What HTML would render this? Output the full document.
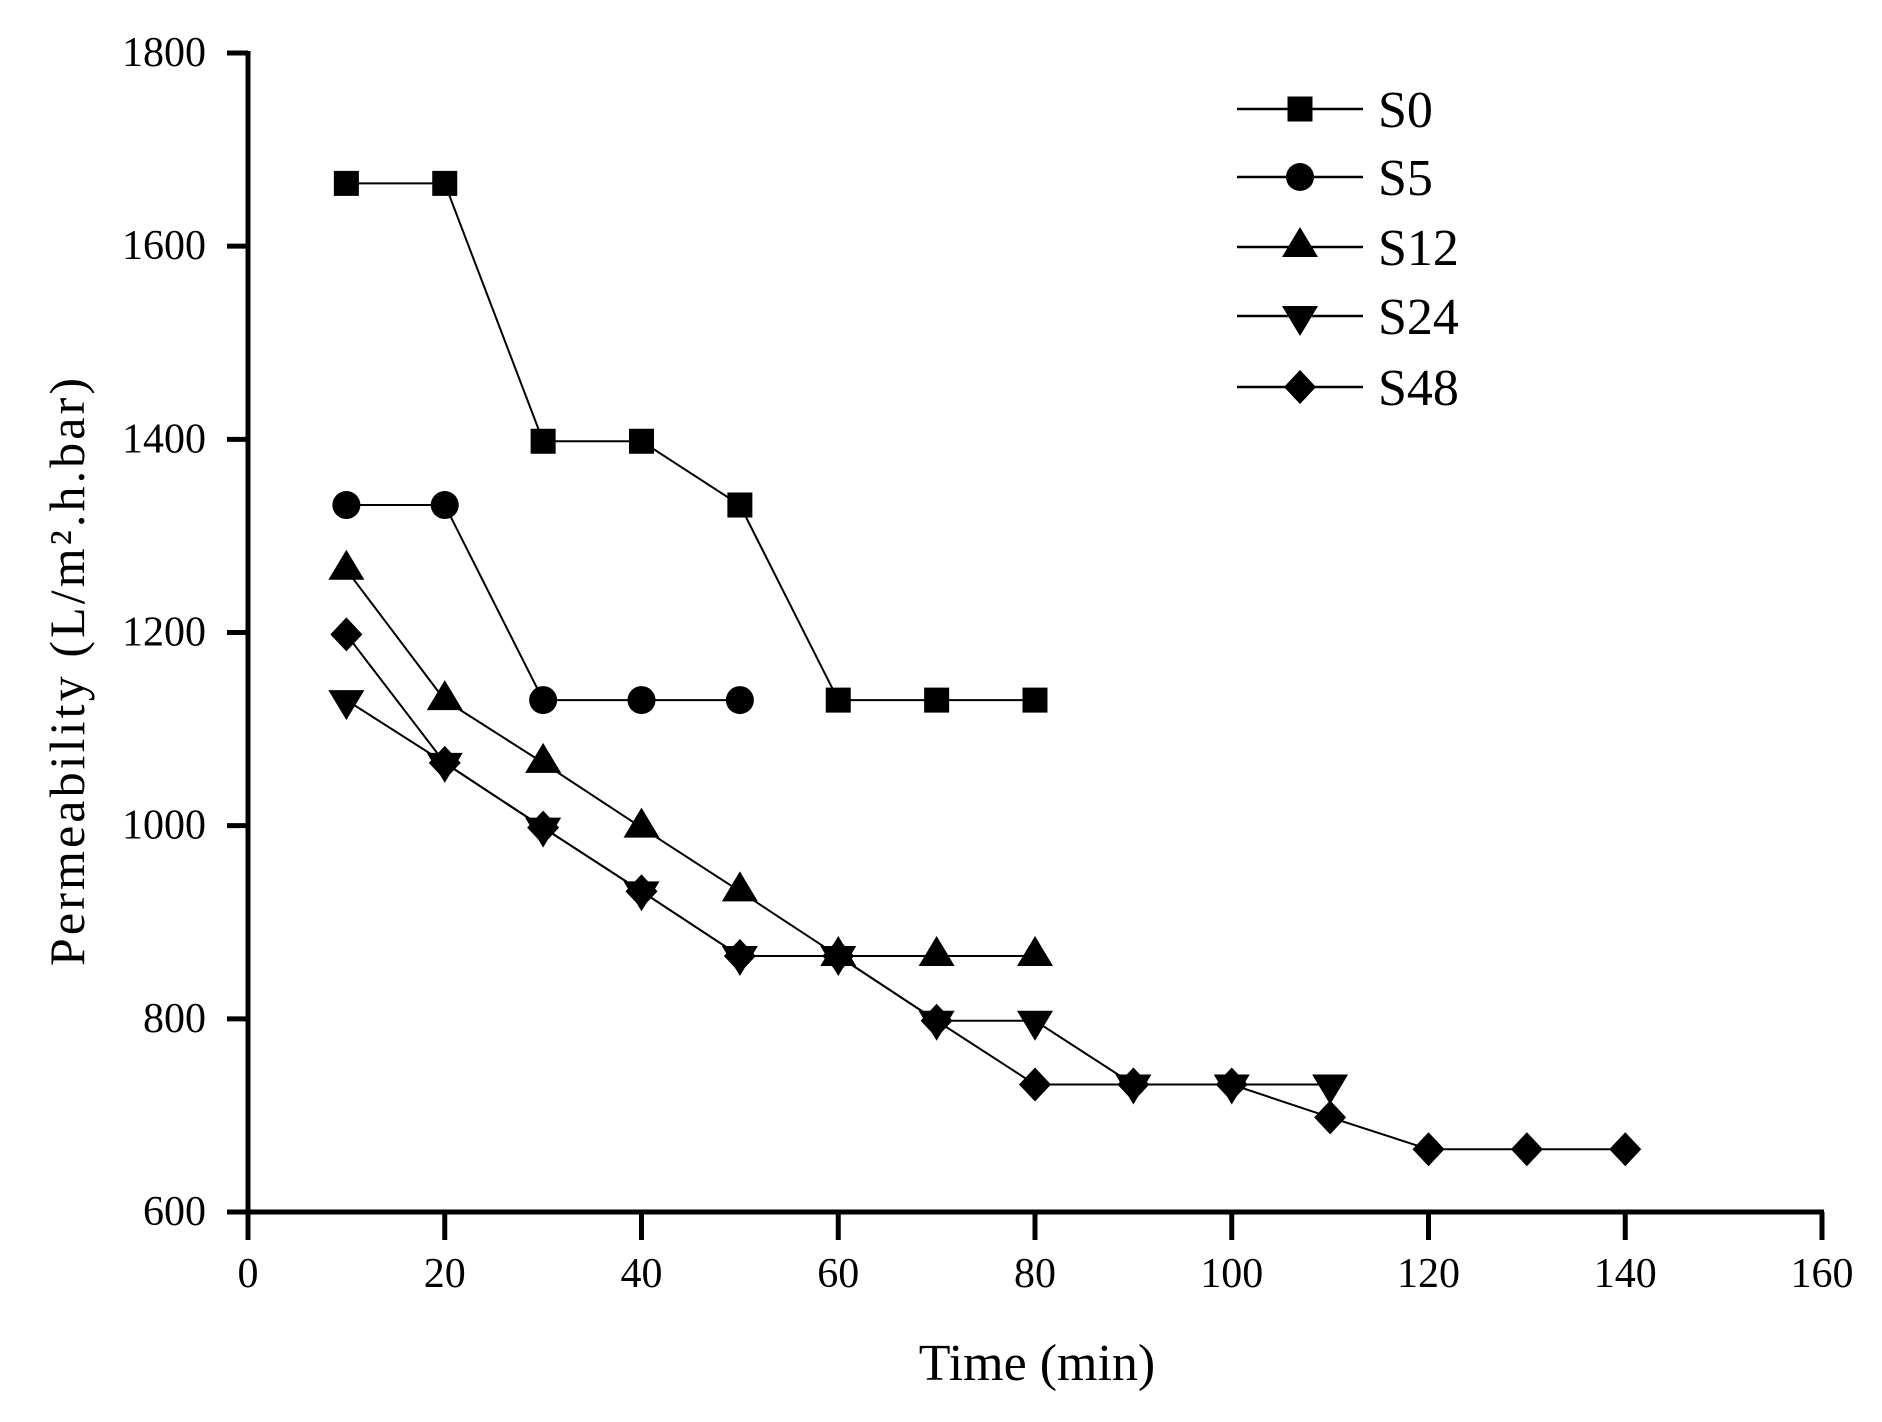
<!DOCTYPE html>
<html><head><meta charset="utf-8"><style>html,body{margin:0;padding:0;background:#fff}</style></head>
<body>
<svg id="s" width="1882" height="1417" xmlns="http://www.w3.org/2000/svg" font-family="Liberation Serif, serif">
<g id="g"></g>
</svg>
<script>
const X=v=>248+v*9.8375, Y=v=>1212-(v-600)*(1159/1200);
const ns="http://www.w3.org/2000/svg";let h='';
h+=`<line x1="248" y1="51" x2="248" y2="1214" stroke="#000" stroke-width="5"/>`;
h+=`<line x1="246" y1="1212" x2="1824" y2="1212" stroke="#000" stroke-width="5"/>`;
for(let v=600;v<=1800;v+=200){const y=Y(v);h+=`<line x1="227" y1="${y}" x2="248" y2="${y}" stroke="#000" stroke-width="5"/><text x="206" y="${y+13}" font-size="42" text-anchor="end">${v}</text>`;}
for(let v=0;v<=160;v+=20){const x=X(v);h+=`<line x1="${x}" y1="1212" x2="${x}" y2="1240" stroke="#000" stroke-width="5"/><text x="${x}" y="1287" font-size="42" text-anchor="middle">${v}</text>`;}
h+=`<text x="1037" y="1380" font-size="52" text-anchor="middle">Time (min)</text>`;
h+=`<text transform="translate(84,672) rotate(-90)" font-size="50" text-anchor="middle" textLength="588">Permeability (L/m²·h.bar)</text>`.replace('·','.');
function mk(t,x,y){
 if(t==0)return `<rect x="${x-12.5}" y="${y-12.5}" width="25" height="25"/>`;
 if(t==1)return `<circle cx="${x}" cy="${y}" r="14"/>`;
 if(t==2)return `<polygon points="${x},${y-20} ${x+18},${y+10} ${x-18},${y+10}"/>`;
 if(t==3)return `<polygon points="${x},${y+20} ${x+18},${y-10} ${x-18},${y-10}"/>`;
 return `<polygon points="${x},${y-17} ${x+16},${y} ${x},${y+17} ${x-16},${y}"/>`;}
const D=[
[1665,1665,1398,1398,1332,1130,1130,1130],
[1332,1332,1130,1130,1130],
[1265,1130,1065,998,932,865,865,865],
[1130,1065,998,932,865,865,798,798,732,732,732],
[1198,1065,998,932,865,865,798,732,732,732,698,665,665,665]];
D.forEach((d,t)=>{const p=d.map((v,i)=>[X(10+10*i),Y(v)]);
 h+=`<polyline fill="none" stroke="#000" stroke-width="2" points="${p.map(a=>a.join(',')).join(' ')}"/>`;
 p.forEach(a=>h+=mk(t,a[0],a[1]));});
const L=['S0','S5','S12','S24','S48'],ly=[109,177,247,316,387];
L.forEach((s,i)=>{h+=`<line x1="1237" y1="${ly[i]}" x2="1363" y2="${ly[i]}" stroke="#000" stroke-width="2.5"/>`+mk(i,1300,ly[i])+`<text x="1378" y="${ly[i]+18}" font-size="52">${s}</text>`;});
document.getElementById('g').innerHTML=h;
</script>
</body></html>
